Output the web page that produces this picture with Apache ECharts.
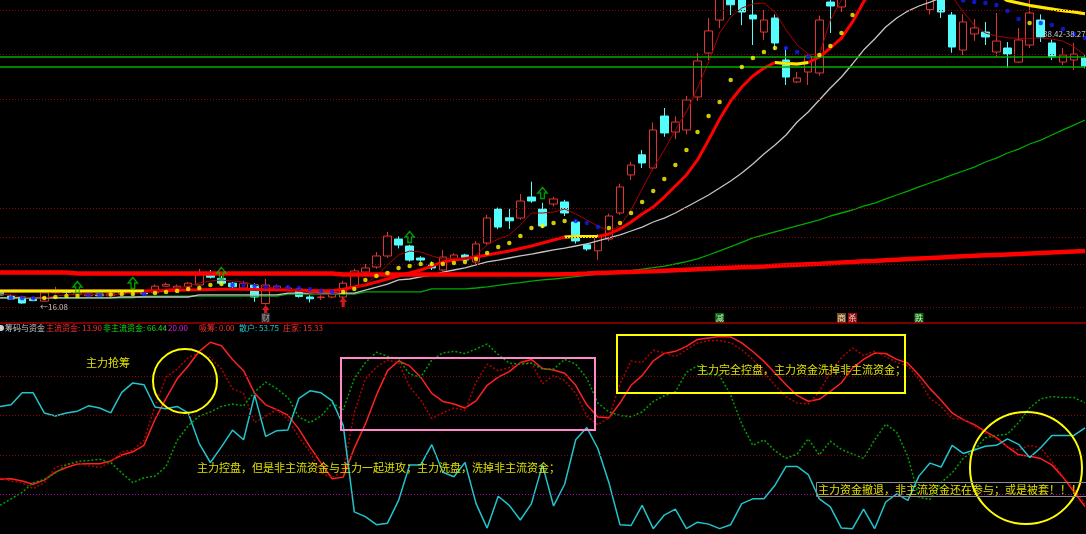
<!DOCTYPE html>
<html><head><meta charset="utf-8">
<script src="https://cdn.jsdelivr.net/npm/echarts@6/dist/echarts.min.js"></script>
<style>html,body{margin:0;padding:0;background:#000;}#c{width:1086px;height:534px;}</style>
</head><body><div id="c"></div>
<script>
// ---------- top panel: price candles [open, close, low, high] ----------
const ohlc = [
[16.87,16.62,16.45,17.0],[16.53,16.28,16.2,16.65],[16.45,15.95,15.9,16.55],[16.3,16.15,16.1,16.4],[16.1,16.8,16.08,16.9],
[16.8,16.95,16.75,17.3],[16.9,16.82,16.7,17.0],[16.65,16.8,16.6,16.9],[16.55,16.7,16.5,16.85],[16.7,16.55,16.5,16.8],
[16.55,16.72,16.5,16.85],[16.7,16.9,16.6,17.0],[16.85,16.95,16.8,17.05],[16.8,16.72,16.65,16.9],[16.8,17.35,16.75,17.5],
[17.35,17.5,17.3,17.65],[17.2,17.35,17.1,17.5],[17.3,17.6,17.2,17.7],[17.45,18.3,17.4,18.8],[18.3,18.1,18.0,18.7],
[18.0,17.6,17.5,18.2],[17.6,17.3,17.2,17.7],[17.2,17.6,17.1,17.8],[17.45,16.45,16.05,17.6],[15.9,17.45,15.8,17.95],
[17.0,17.35,16.9,17.5],[17.1,17.2,17.0,17.4],[17.1,16.5,16.4,17.2],[16.45,16.3,16.0,16.6],[16.4,16.45,16.2,16.6],
[16.45,16.7,16.35,16.85],[16.45,17.6,16.3,17.8],[17.28,18.62,17.2,18.8],[18.53,18.87,18.3,19.2],[18.95,19.87,18.8,20.2],
[19.87,21.53,19.7,21.87],[21.28,20.78,20.5,21.5],[20.7,19.53,19.4,20.8],[19.7,19.53,19.4,19.85],[19.12,18.87,18.7,19.4],
[18.7,19.78,18.6,20.37],[19.53,19.95,19.4,20.1],[19.95,19.53,19.45,20.05],[19.37,20.87,19.2,21.1],[20.95,23.03,20.8,23.3],
[23.78,22.28,22.1,23.9],[23.05,22.8,22.12,23.8],[23.03,24.45,22.9,25.03],[24.78,24.45,24.3,26.06],[23.78,22.37,22.2,24.3],
[24.2,24.62,24.0,24.8],[24.37,23.45,23.2,24.55],[22.7,21.12,20.9,22.9],[20.8,20.45,20.3,20.9],[20.3,21.5,19.55,21.7],
[21.28,23.2,21.1,23.4],[23.45,25.62,23.3,25.9],[26.62,27.45,26.2,27.7],[28.3,27.62,27.2,28.7],[27.2,30.37,27.0,31.0],
[31.53,30.12,29.8,32.2],[30.2,31.03,29.6,31.5],[30.37,32.87,30.0,33.2],[33.12,36.12,32.8,36.8],[36.78,38.62,36.2,39.7],
[39.53,41.5,38.87,42.0],[41.6,40.8,39.95,42.0],[41.5,40.2,39.1,42.0],[39.95,39.62,37.45,41.2],[38.53,39.53,37.87,40.37],
[39.7,37.62,37.03,40.0],[36.2,34.78,34.12,37.28],[34.37,34.7,34.28,35.2],[35.2,36.53,34.12,36.7],[35.12,39.53,34.9,39.9],
[41.03,40.7,38.45,41.5],[40.62,42.0,40.2,42.5],[42.0,43.0,41.6,43.5],[43.0,44.0,42.4,44.5],[44.0,43.6,43.0,44.8],
[43.6,44.6,43.2,45.0],[44.6,45.4,44.0,46.0],[45.4,45.0,44.3,46.0],[45.0,44.2,43.6,45.5],[40.4,42.5,40.0,43.0],
[42.0,40.2,39.7,42.5],[39.95,37.28,36.8,40.2],[37.03,39.37,36.6,40.0],[38.37,38.87,37.8,39.6],[38.53,38.12,37.45,39.37],
[36.87,37.78,36.45,40.12],[37.2,36.7,35.53,37.7],[36.03,37.87,35.95,38.87],[37.45,40.12,37.2,41.2],[39.53,38.12,37.7,40.0],
[37.62,36.45,36.2,37.9],[36.03,36.62,35.78,37.2],[36.2,36.7,35.37,37.62],[36.37,35.7,35.5,36.6]
];
// moving-average style lines (price)
const maLong = [18.49,18.49,18.49,18.49,18.49,18.49,18.49,18.41,18.41,18.41,18.41,18.41,18.41,18.41,18.41,18.41,18.41,18.41,18.41,18.41,
18.41,18.41,18.41,18.41,18.41,18.41,18.41,18.41,18.41,18.41,18.41,18.33,18.33,18.33,18.33,18.33,18.33,18.33,18.33,18.33,
18.33,18.33,18.33,18.33,18.33,18.33,18.33,18.33,18.33,18.33,18.33,18.35,18.37,18.4,18.44,18.48,18.51,18.54,18.57,18.6,
18.64,18.68,18.72,18.76,18.8,18.84,18.88,18.92,18.96,19.0,19.05,19.1,19.14,19.18,19.22,19.27,19.32,19.37,19.42,19.46,
19.51,19.56,19.61,19.66,19.7,19.75,19.8,19.84,19.88,19.92,19.96,20.0,20.04,20.08,20.12,20.16,20.2,20.24,20.28];
const maMid = [16.95,16.95,16.95,16.95,16.95,16.95,16.95,16.95,16.95,16.95,16.95,16.95,16.95,16.95,16.98,17.0,17.02,17.03,17.05,17.08,
17.1,17.1,17.1,17.08,17.06,17.05,17.03,17.02,17.0,16.98,16.98,17.1,17.28,17.45,17.7,17.95,18.2,18.45,18.7,19.03,
19.37,19.53,19.66,19.78,19.95,20.12,20.28,20.49,20.7,20.95,21.2,21.45,21.49,21.49,21.49,21.7,22.12,22.7,23.37,23.95,
24.78,25.7,26.62,27.87,29.53,31.28,32.78,33.95,34.87,35.53,35.99,35.91,35.87,35.99,36.45,37.2,38.03,39.37,41.03,42.5,
43.4,44.0,44.4,44.6,44.6,44.4,44.0,43.5,42.9,42.3,41.7,41.15,40.95,40.75,40.6,40.45,40.3,40.2,40.05];
const midYellowRanges = [[0,13],[51,54],[70,73],[88,98]];
const maGray = [16.37,16.37,16.37,16.37,16.37,16.37,16.37,16.37,16.37,16.37,16.37,16.45,16.45,16.45,16.45,16.45,16.45,16.45,16.62,16.62,
16.62,16.62,16.62,16.62,16.62,16.62,16.78,16.78,16.78,16.78,16.78,16.78,16.78,17.03,17.28,17.53,17.87,17.95,18.12,18.28,
18.53,18.7,18.87,19.12,19.37,19.53,19.7,19.87,20.03,20.2,20.37,20.53,20.7,20.87,21.12,21.37,21.62,21.95,22.28,22.7,
23.03,23.45,23.95,24.45,24.95,25.53,26.12,26.78,27.53,28.37,29.12,29.95,31.03,31.87,32.87,33.87,34.78,35.87,37.03,37.95,
38.95,39.7,40.28,40.7,41.03,41.37,null,null,null,null,null,null,null,null,null,null,null,null,null];
const maGreen = [16.37,16.37,16.37,16.37,16.37,16.37,16.37,16.37,16.37,16.37,16.37,16.37,16.37,16.53,16.53,16.53,16.53,16.53,16.53,16.53,
16.53,16.53,16.53,16.53,16.53,16.53,16.7,16.7,16.7,16.7,16.7,16.7,16.7,16.87,16.87,16.87,16.87,16.87,16.87,17.12,
17.12,17.12,17.12,17.2,17.3,17.42,17.55,17.65,17.77,17.87,17.95,18.05,18.15,18.25,18.35,18.45,18.55,18.65,18.78,18.9,
19.03,19.2,19.4,19.62,19.95,20.3,20.65,21.0,21.37,21.62,21.87,22.12,22.37,22.62,22.87,23.2,23.45,23.7,24.03,24.28,
24.62,24.95,25.28,25.62,25.95,26.28,26.62,26.95,27.28,27.7,28.03,28.45,28.78,29.2,29.53,29.95,30.37,30.78,31.2];
const ma5 = [16.7,16.62,16.45,16.37,16.37,16.53,16.62,16.7,16.7,16.62,16.62,16.7,16.78,16.78,16.95,17.12,17.2,17.37,17.62,17.78,
17.87,17.78,17.7,17.45,17.28,17.2,17.12,16.95,16.78,16.7,16.7,16.87,17.2,17.53,18.2,19.12,19.95,20.28,20.2,19.87,
19.62,19.7,19.62,19.95,20.78,21.28,21.62,22.45,23.45,23.45,23.53,23.78,23.37,22.87,22.37,21.95,22.37,23.7,25.45,27.2,
28.7,30.37,31.87,33.87,36.03,38.45,39.78,40.53,40.87,40.95,40.2,38.7,37.45,36.7,36.62,39.53,41.2,42.2,43.0,43.6,
44.0,44.5,44.8,44.6,43.8,42.8,41.5,40.2,39.1,38.45,38.2,38.05,38.0,38.0,38.03,37.95,37.78,37.3,36.6];
// stop-and-reverse dots [bar, price]
const sarUp = [[4,16.37],[5,16.45],[6,16.53],[7,16.53],[10,16.66],[11,16.7],[12,16.7],[14,16.78],[15,16.87],[16,16.95],[17,17.12],[18,17.2],
[19,17.45],[20,17.53],[31,16.87],[32,17.12],[33,17.87],[34,18.2],[35,18.45],[36,18.87],[37,19.03],[38,19.2],[39,19.2],[40,19.2],[41,19.28],
[42,19.37],[43,19.62],[44,20.12],[45,20.62],[46,20.95],[47,21.53],[48,22.2],[49,22.37],[50,22.62],[51,22.78],[55,22.2],[56,22.62],[57,23.45],
[58,24.37],[59,25.28],[60,26.28],[61,27.45],[62,28.7],[63,30.2],[64,31.53],[65,32.7],[66,34.53],[67,35.62],[68,36.37],[69,36.87],[70,37.2],
[74,36.62],[75,37.37],[76,38.45],[77,39.95],[93,39.28]];
const sarDn = [[1,16.39],[2,16.34],[3,16.34],[8,16.62],[9,16.62],[13,16.7],[21,17.45],[22,17.45],[23,17.37],[24,17.28],[25,17.28],[26,17.28],
[27,17.2],[28,17.12],[29,16.95],[30,16.87],[52,22.78],[53,22.62],[54,22.28],[71,37.2],[72,36.87],[73,36.45],[87,41.16],[88,41.03],[89,40.95],
[90,40.78],[91,40.28],[92,39.62],[94,39.28],[95,39.12],[96,38.78],[97,38.37],[98,38.03]];
const greenArrows = [[7,17.28],[12,17.62],[20,18.45],[37,21.45],[49,25.12]];
const redArrows = [[24,15.37],[31,16.03]];
const tagBars = [65,76,77,83,24];
const tagTexts = ['减','商','杀','跌','财'];
const tagColors = ['#0a8a0a','#a0601e','#c01010','#0a8a0a','#303030'];
const tagLevel = 14.7;
const topLevels = [40.37,36.7,32.95,23.87,21.45,19.2,15.62];
const greenLevels = [36.45,35.62];
const lowLabel = '16.08';
const rangeLabel = '38.42-38.27';

// ---------- bottom panel: 筹码与资金 ----------
const mainFund = [27.7,28,26.8,25.2,27.3,31.3,33.7,35.4,35.6,35.6,37,40,41.6,44.9,58,68.7,78.6,85.1,92.5,97.1,
95.3,88.4,82.7,71.2,65.4,63,60.2,53.1,44.1,35.9,28,28.8,43.5,55.6,70.3,82.7,87.6,85.1,79.4,71.2,
67.1,65.8,63.8,67.4,75.3,79.4,82.2,86.8,88.4,83.8,83,81.4,75.3,65.4,59.2,58.9,66.3,75.3,80.2,87.6,
91.4,92.5,95,98.5,99.3,100,99.8,96.8,92.4,87.4,81.5,75.6,70.2,67.2,68.2,72.2,76.6,84,88.4,91.6,
91.4,88.4,86.5,80.5,73.6,67.7,61.3,57.9,55.4,52,48.8,44.1,40.1,39.4,38.2,35,28.8,21.4,13.9];
const dealer = [28.3,26.8,26,23,26,33.7,35.4,35.9,34.6,33.7,36.2,41.6,42.5,47.4,64.6,79.4,83.5,89.3,91.7,89.3,
83.5,73.6,71.2,56.4,59.7,63,58,49,41.6,30.9,28.5,31.8,61.3,78.6,84.5,88.1,86.8,74.5,67.9,58.5,
61.3,63.8,62.5,76.9,86,82.7,84.3,86.5,86.8,76.1,80.2,77.7,71.2,59.7,55.3,58.9,76.1,87.6,86.8,93,
91.7,89.8,93.3,96.7,97.8,98,96.8,93.3,88.4,81.9,75.3,69.6,66.3,65.8,72,81.9,89.3,94.2,90.4,92.5,
89.8,86.8,85.1,78.6,68.7,64.6,58.5,58,54.8,51,48.2,44.1,42.5,44.9,43.7,36.7,29.3,22.8,15.33];
const nonMain = [14.5,17.8,21.1,26,27.7,30.9,35.1,36.7,37.2,37.8,36.2,30.9,26,28.5,29.3,34.2,47.4,54.8,59.7,61.8,
64.6,65.8,64.9,72,76.9,73.6,69.1,59.2,56.4,59.7,66.3,63,78.6,86.8,92,90,88.4,81,79.4,88.1,
91.7,92.5,91.4,93.7,96.2,90.9,86.5,86,86.5,83.5,83.5,88.4,86,78.9,66.3,61.8,60,59.4,61.8,67.1,
70,72,81.9,85.1,81,80.2,70.3,55.6,44.9,47.7,42.1,38.3,40.5,48.2,40,47,42.8,40.5,38.3,47.7,
55.6,51.5,39.2,18.6,17.5,26,30.9,38.3,42.5,48.7,49.9,50.6,56.4,63.8,68.4,69.6,69.1,69.1,66.44];
const retail = [64.6,65.4,71.5,71.5,61.3,59.7,61.3,62.2,64.9,63.8,61.3,71.7,76.5,75.6,64.3,63.4,64.6,61.3,45.7,36.2,
44.1,52.6,47.7,70.3,49.4,52.3,52.6,68.7,72.5,71.5,67.4,55,11.2,8.8,4.7,5.5,17,35,35,45.2,
31.3,29,36.2,15.4,3,19.1,14.5,7.1,15.4,35,14.2,25.2,47.7,53.9,43.3,26,4.7,4.3,14.5,2.7,
9.6,12.6,2.7,6,5,2.7,4.7,15.4,17.8,17.8,24.7,34.2,34.2,30.1,17.8,13.7,3,2.7,12.6,2.7,
16.2,20.3,17,29.3,35.9,33.9,44.9,40.8,42.5,44.4,44.9,48.2,45.4,38.7,43.7,49.9,49.9,49.9,53.75];
const absorb = 0.00;
const midLine = 20.00;
const redLevels = [80,60,40];
const purpleLevels = [20];

// ---------- build ----------
const N = ohlc.length;
const cats = ohlc.map((_, i) => String(i));
const maMidYellow = maMid.map((v, i) => midYellowRanges.some(r => i >= r[0] && i <= r[1]) ? v : null);
const FONT = '"Noto Sans CJK SC", "Noto Sans", sans-serif';
const last = a => a[a.length - 1].toFixed(2);
const noSym = { symbol: 'none', silent: true, animation: false };

function lineS(name, data, color, width, type, xi) {
  return Object.assign({ type: 'line', name, data, xAxisIndex: xi, yAxisIndex: xi,
    lineStyle: { color, width, type: type || 'solid' }, connectNulls: false, z: 3 }, noSym);
}
function txt(x, y, text, fill, size) {
  return { type: 'text', x, y, z: 100, style: { text, fill, fontSize: size, fontFamily: FONT, verticalAlign: 'middle' } };
}
const dotStyle = c => ({ color: c, type: [1, 2], width: 1 });

const mainS = lineS('主流资金', mainFund, '#ff2020', 1.5, 'solid', 1);
mainS.markLine = { symbol: 'none', silent: true, label: { show: false }, animation: false,
  data: redLevels.map(v => ({ yAxis: v, lineStyle: dotStyle('#900000') }))
    .concat(purpleLevels.map(v => ({ yAxis: v, lineStyle: dotStyle('#b000b0') }))) };

const longS = lineS('长线', maLong, '#ff0000', 4.5, 'solid', 0);
longS.z = 4;
longS.markLine = { symbol: 'none', silent: true, label: { show: false }, animation: false,
  data: topLevels.map(v => ({ yAxis: v, lineStyle: dotStyle('#900000') }))
    .concat(greenLevels.map(v => ({ yAxis: v, lineStyle: { color: '#00b000', type: 'solid', width: 1.5 } }))) };

const option = {
  backgroundColor: '#000',
  animation: false,
  grid: [
    { left: 0, right: 1, top: 0, height: 320 },
    { left: 0, right: 1, top: 336.5, height: 203 }
  ],
  xAxis: [
    { type: 'category', data: cats, gridIndex: 0, show: false, boundaryGap: false },
    { type: 'category', data: cats, gridIndex: 1, show: false, boundaryGap: false }
  ],
  yAxis: [
    { type: 'value', gridIndex: 0, min: 41.2 - 320 / 12, max: 41.2, show: false },
    { type: 'value', gridIndex: 1, min: 0, max: 100, show: false }
  ],
  series: [
    { type: 'candlestick', data: ohlc, xAxisIndex: 0, yAxisIndex: 0, barWidth: 8, z: 2, silent: true,
      itemStyle: { color: 'rgba(0,0,0,0)', color0: '#54fcfc', borderColor: '#e03434', borderColor0: '#54fcfc', borderWidth: 1 } },
    longS,
    lineS('绿线', maGreen, '#00a800', 1.3, 'solid', 0),
    lineS('灰线', maGray, '#c4c4c4', 1.3, 'solid', 0),
    lineS('中线', maMid, '#ff0000', 3, 'solid', 0),
    lineS('中线黄', maMidYellow, '#f0f000', 3, 'solid', 0),
    lineS('短线', ma5, '#a80000', 1, 'solid', 0),
    { type: 'scatter', data: sarUp, xAxisIndex: 0, yAxisIndex: 0, symbol: 'circle', symbolSize: 4.5, z: 5, silent: true,
      itemStyle: { color: '#ffff00' } },
    { type: 'scatter', data: sarDn, xAxisIndex: 0, yAxisIndex: 0, symbol: 'circle', symbolSize: 4.5, z: 5, silent: true,
      itemStyle: { color: '#1818ff' } },
    { type: 'scatter', data: greenArrows, xAxisIndex: 0, yAxisIndex: 0, z: 6, silent: true,
      symbol: 'path://M0,0 L5,5 L2,5 L2,10 L-2,10 L-2,5 L-5,5 Z', symbolSize: [9, 11],
      itemStyle: { color: 'rgba(0,0,0,0)', borderColor: '#00c000', borderWidth: 1.5 } },
    { type: 'scatter', data: redArrows, xAxisIndex: 0, yAxisIndex: 0, z: 6, silent: true,
      symbol: 'path://M0,0 L5,5 L2,5 L2,10 L-2,10 L-2,5 L-5,5 Z', symbolSize: [8, 10],
      itemStyle: { color: '#ff2020' } },
    { type: 'scatter', xAxisIndex: 0, yAxisIndex: 0, z: 6, silent: true, symbol: 'rect', symbolSize: [9, 10],
      data: tagBars.map((b, k) => ({ value: [b, tagLevel], itemStyle: { color: tagColors[k] },
        label: { show: true, position: 'inside', formatter: tagTexts[k], color: k === 4 ? '#c8c8c8' : '#ffffff', fontSize: 8, fontFamily: FONT } })) },
    mainS,
    lineS('庄家', dealer, '#b00000', 1.5, [2, 2], 1),
    lineS('非主流资金', nonMain, '#00a000', 1.5, [2, 2], 1),
    lineS('散户', retail, '#22c4cc', 1.5, 'solid', 1)
  ],
  graphic: [
    { type: 'line', z: 90, shape: { x1: 0, y1: 323, x2: 1086, y2: 323 }, style: { stroke: '#a00000', lineWidth: 1.5 } },
    { type: 'circle', z: 100, shape: { cx: 1, cy: 328, r: 3 }, style: { fill: '#d0d0d0' } },
    txt(5, 328, '筹码与资金', '#c8c8c8', 8),
    txt(46, 328, '主流资金: ' + last(mainFund), '#ff3232', 8),
    txt(103, 328, '非主流资金: ' + last(nonMain), '#10e010', 8),
    txt(164, 328, ': ' + midLine.toFixed(2), '#e020e0', 8),
    txt(199, 328, '吸筹: ' + absorb.toFixed(2), '#ff3232', 8),
    txt(239, 328, '散户: ' + last(retail), '#20c8c8', 8),
    txt(283, 328, '庄家: ' + last(dealer), '#ff3232', 8),
    txt(40, 307, '←' + lowLabel, '#c0c0c0', 8),
    txt(1043, 34, rangeLabel, '#c8c8c8', 8),
    { type: 'circle', z: 100, shape: { cx: 185, cy: 381, r: 32 }, style: { fill: 'none', stroke: '#ffff00', lineWidth: 2 } },
    { type: 'circle', z: 100, shape: { cx: 1026, cy: 468, r: 56 }, style: { fill: 'none', stroke: '#ffff00', lineWidth: 2 } },
    { type: 'rect', z: 100, shape: { x: 341, y: 358, width: 254, height: 72 }, style: { fill: 'none', stroke: '#ff88c8', lineWidth: 2 } },
    { type: 'rect', z: 100, shape: { x: 617, y: 335, width: 288, height: 58 }, style: { fill: 'none', stroke: '#ffff00', lineWidth: 2 } },
    { type: 'rect', z: 100, shape: { x: 816.5, y: 482.5, width: 280, height: 14 }, style: { fill: 'none', stroke: '#8c8c8c', lineWidth: 1 } },
    txt(86, 363, '主力抢筹', '#e0e000', 11),
    txt(197, 468, '主力控盘，但是非主流资金与主力一起进攻；主力洗盘，洗掉非主流资金；', '#e0e000', 11),
    txt(697, 370, '主力完全控盘，主力资金洗掉非主流资金；', '#e0e000', 11),
    txt(818, 489.5, '主力资金撤退，非主流资金还在参与；或是被套！！！', '#e0e000', 11)
  ]
};
const chart = echarts.init(document.getElementById('c'), null, { renderer: 'canvas' });
chart.setOption(option);
</script>
</body></html>
